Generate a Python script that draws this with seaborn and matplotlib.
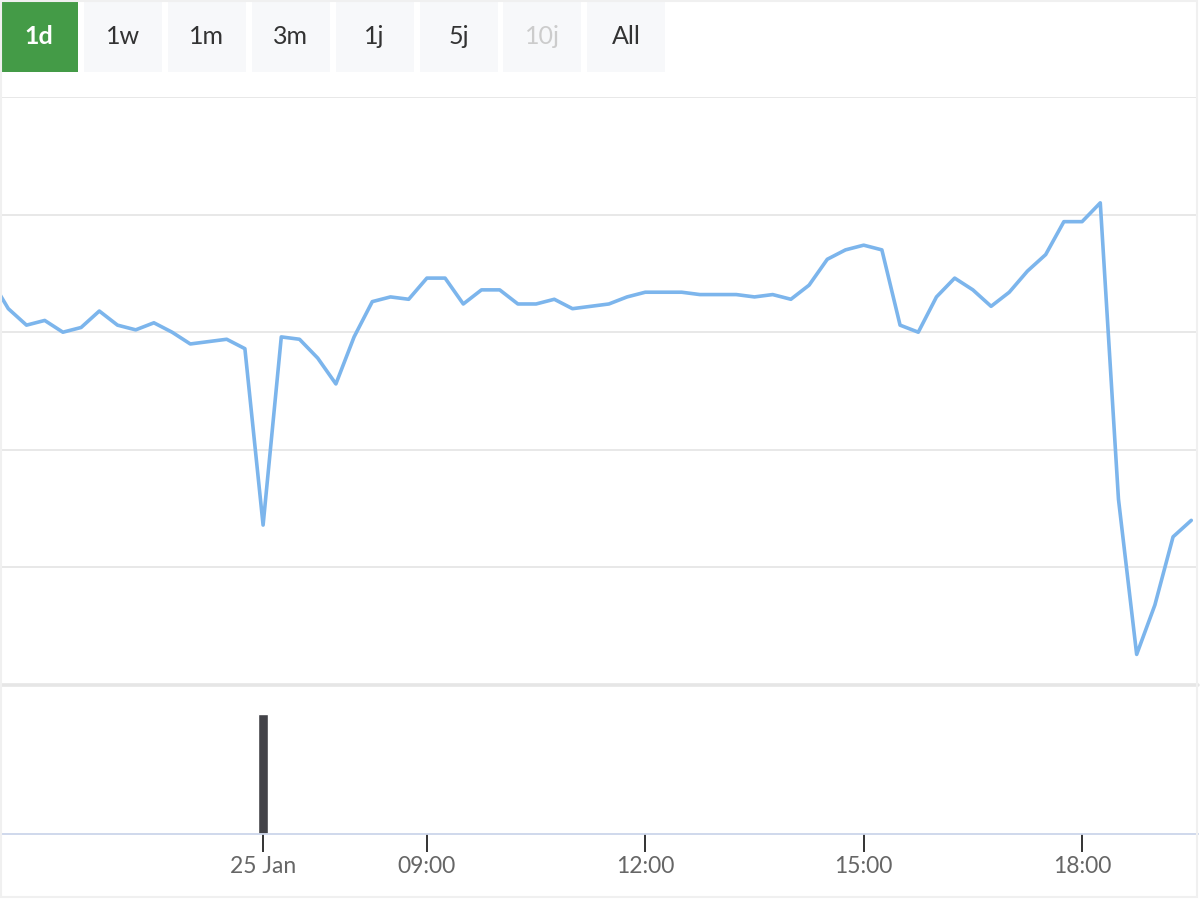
"""
Intraday price chart with range selector and volume panel
"""

import matplotlib
matplotlib.use("Agg")
import matplotlib.pyplot as plt
from matplotlib.patches import Rectangle
import pandas as pd
import seaborn as sns

# range selector buttons
buttons = ['1d', '1w', '1m', '3m', '1j', '5j', '10j', 'All']
selected_button = '1d'
disabled_buttons = ['10j']

# price series (ordinal index, 15-minute steps; index -1 is the last point before the view)
point_index = list(range(-1, 66))
price = [11.73, 11.60, 11.53, 11.55, 11.50, 11.52, 11.59, 11.53, 11.51, 11.54,
         11.50, 11.45, 11.46, 11.47, 11.43, 10.68, 11.48, 11.47, 11.39, 11.28,
         11.48, 11.63, 11.65, 11.64, 11.73, 11.73, 11.62, 11.68, 11.68, 11.62,
         11.62, 11.64, 11.60, 11.61, 11.62, 11.65, 11.67, 11.67, 11.67, 11.66,
         11.66, 11.66, 11.65, 11.66, 11.64, 11.70, 11.81, 11.85, 11.87, 11.85,
         11.53, 11.50, 11.65, 11.73, 11.68, 11.61, 11.67, 11.76, 11.83, 11.97,
         11.97, 12.05, 10.79, 10.13, 10.34, 10.63, 10.70]

# volume (only one trade bar in view)
volume_index = [14]
volume = [1250]

# x axis labels
tick_index = [14, 23, 35, 47, 59]
tick_labels = ['25 Jan', '09:00', '12:00', '15:00', '18:00']

price_grid = [10.0, 10.5, 11.0, 11.5, 12.0, 12.5]

df = pd.DataFrame({'idx': point_index, 'price': price})

sns.set_style("white")
plt.rcParams['font.family'] = ['Lato', 'DejaVu Sans']

W, H = 1200, 900
fig = plt.figure(figsize=(12, 9), dpi=100)

def fx(px):
    return px / W

def fy(py):
    return 1 - py / H

# main price panel
ax = fig.add_axes([0, fy(685), fx(1198), fy(97) - fy(685)])
sns.lineplot(data=df, x='idx', y='price', ax=ax, color='#7cb5ec', linewidth=2.6)
ax.set_xlim(-0.456, 65.37)
ax.set_ylim(price_grid[0], price_grid[-1])
for g in price_grid[1:]:
    ax.axhline(g, color='#e6e6e6', linewidth=1.3, zorder=0)
ax.axhline(price_grid[0], color='#e6e6e6', linewidth=2.6, zorder=0, clip_on=False)
ax.set_xticks([])
ax.set_yticks([])
ax.set_xlabel('')
ax.set_ylabel('')
for s in ax.spines.values():
    s.set_visible(False)
ax.patch.set_alpha(0)

# volume panel
axv = fig.add_axes([0, fy(834), fx(1198), fy(687) - fy(834)])
axv.bar(volume_index, volume, width=0.55, color='#434348')
axv.set_xlim(-0.456, 65.37)
axv.set_ylim(0, max(volume) / 0.816)
axv.set_yticks([])
axv.set_xticks(tick_index)
axv.set_xticklabels(tick_labels)
axv.tick_params(axis='x', bottom=True, direction='out', length=13, width=1.4,
                color='#333333', pad=3, labelsize=16.5, labelcolor='#666666')
for side in ['top', 'left', 'right']:
    axv.spines[side].set_visible(False)
axv.spines['bottom'].set_color('#ccd6eb')
axv.spines['bottom'].set_linewidth(1.3)
axv.patch.set_alpha(0)

# range selector buttons
step = 83.9
for i, name in enumerate(buttons):
    x0 = i * step
    if name == selected_button:
        face, txt, weight, top = '#449b47', 'white', 'bold', 0
    else:
        face, weight, top = '#f7f8fa', 'normal', 2
        txt = '#cccccc' if name in disabled_buttons else '#333333'
    fig.patches.append(Rectangle((fx(x0), fy(72)), fx(78), fy(top) - fy(72),
                                 transform=fig.transFigure, facecolor=face,
                                 edgecolor='none'))
    fig.text(fx(x0 + 39), fy(37), name, ha='center', va='center',
             fontsize=18, color=txt, fontweight=weight)

# faint container border
fig.patches.append(Rectangle((fx(1), fy(897)), fx(1196), fy(1) - fy(897),
                             transform=fig.transFigure, facecolor='none',
                             edgecolor='#f0f0f0', linewidth=1.5))

plt.savefig('out.png', dpi=100)
plt.close()
